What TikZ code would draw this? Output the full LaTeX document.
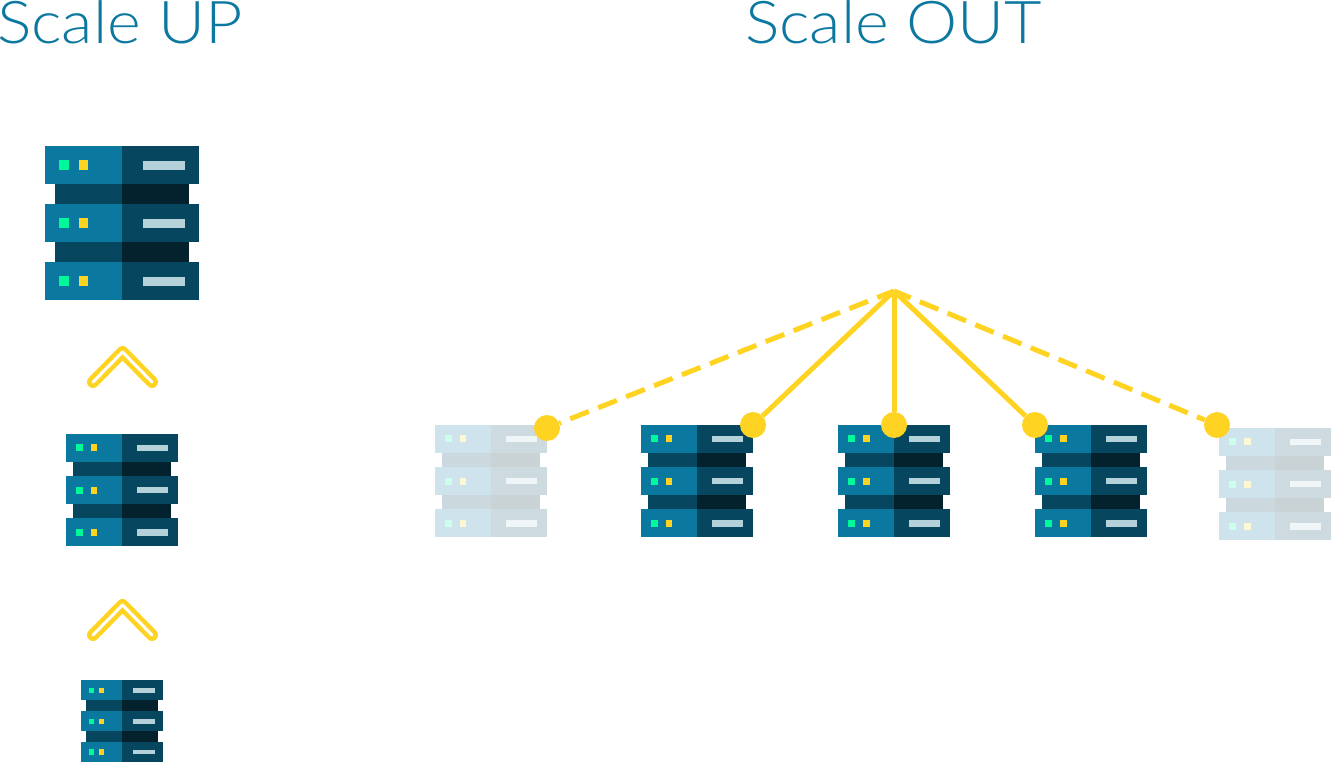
\documentclass[tikz,border=0pt]{standalone}
\usepackage{fontspec}
\setmainfont[FakeStretch=1.095]{Lato Light}
\definecolor{titleblue}{HTML}{0C789F}
\definecolor{yel}{HTML}{FFD322}
\definecolor{bandLnormal}{HTML}{0B789F}
\definecolor{bandRnormal}{HTML}{06465F}
\definecolor{gapLnormal}{HTML}{06465F}
\definecolor{gapRnormal}{HTML}{03222D}
\definecolor{barnormal}{HTML}{B5D1D9}
\definecolor{lednormal}{HTML}{00F99B}
\definecolor{ledYnormal}{HTML}{FFD322}
\definecolor{bandLfaded}{HTML}{CEE3EB}
\definecolor{bandRfaded}{HTML}{CDDADF}
\definecolor{gapLfaded}{HTML}{CBD8DD}
\definecolor{gapRfaded}{HTML}{C9D3D5}
\definecolor{barfaded}{HTML}{F0F6F7}
\definecolor{ledfaded}{HTML}{CCFEEB}
\definecolor{ledYfaded}{HTML}{FFF6D3}
\tikzset{
  title/.style={text=titleblue,font=\fontsize{59}{59}\selectfont,inner sep=0pt,anchor=base west},
  dot/.style={circle,fill=yel,draw=none,minimum size=26pt,inner sep=0pt},
  link/.style={draw=yel,line width=5pt},
  dashlink/.style={link,dash pattern=on 20pt off 10pt,dash phase=2pt},
  chev/.style={draw=yel,line width=4.5pt,double=white,double distance=3pt,line cap=round,line join=round},
  server/.pic={%
    \def\p{\pgfkeysvalueof{/tikz/palette}}%
    \foreach \t in {0,58,116}{
      \fill[bandL\p] (0,\t) rectangle (77,\t+38);
      \fill[bandR\p] (77,\t) rectangle (154,\t+38);
      \fill[led\p] (14.3,\t+14.3) rectangle (24,\t+24);
      \fill[ledY\p] (33.7,\t+14.3) rectangle (43.3,\t+24);
      \fill[bar\p] (97.7,\t+14.6) rectangle (139.7,\t+23.7);
    }
    \foreach \t in {38,96}{
      \fill[gapL\p] (10,\t) rectangle (77,\t+20);
      \fill[gapR\p] (77,\t) rectangle (144,\t+20);
    }
  },
  palette/.initial=normal
}
\begin{document}
\begin{tikzpicture}[x=1pt,y=-1pt]
\useasboundingbox (0,0) rectangle (1331,762);
\node[title] (up) at (-3,44) {Scale UP};
\node[title] (out) at (745,44) {Scale OUT};

\pic[scale=1] at (45,146) {server};
\pic[scale=0.7273] at (66,434) {server};
\pic[scale=0.5325] at (81,680) {server};
\pic[scale=0.7273,palette=faded] at (435,425) {server};
\pic[scale=0.7273] at (641,425) {server};
\pic[scale=0.7273] at (838,425) {server};
\pic[scale=0.7273] at (1035,425) {server};
\pic[scale=0.7273,palette=faded] at (1219,428) {server};

\draw[chev] (93,382) -- (122.5,352) -- (152,382);
\draw[chev] (93,635) -- (122.5,605) -- (152,635);

\coordinate (hub) at (894,291);
\node[dot] (d1) at (547,428) {};
\node[dot] (d2) at (753,425) {};
\node[dot] (d3) at (894,425) {};
\node[dot] (d4) at (1035,425) {};
\node[dot] (d5) at (1217,425) {};
\draw[dashlink] (hub) -- (d1);
\draw[link] (hub) -- (d2);
\draw[link] (hub) -- (d3);
\draw[link] (hub) -- (d4);
\draw[dashlink] (hub) -- (d5);
\end{tikzpicture}
\end{document}
